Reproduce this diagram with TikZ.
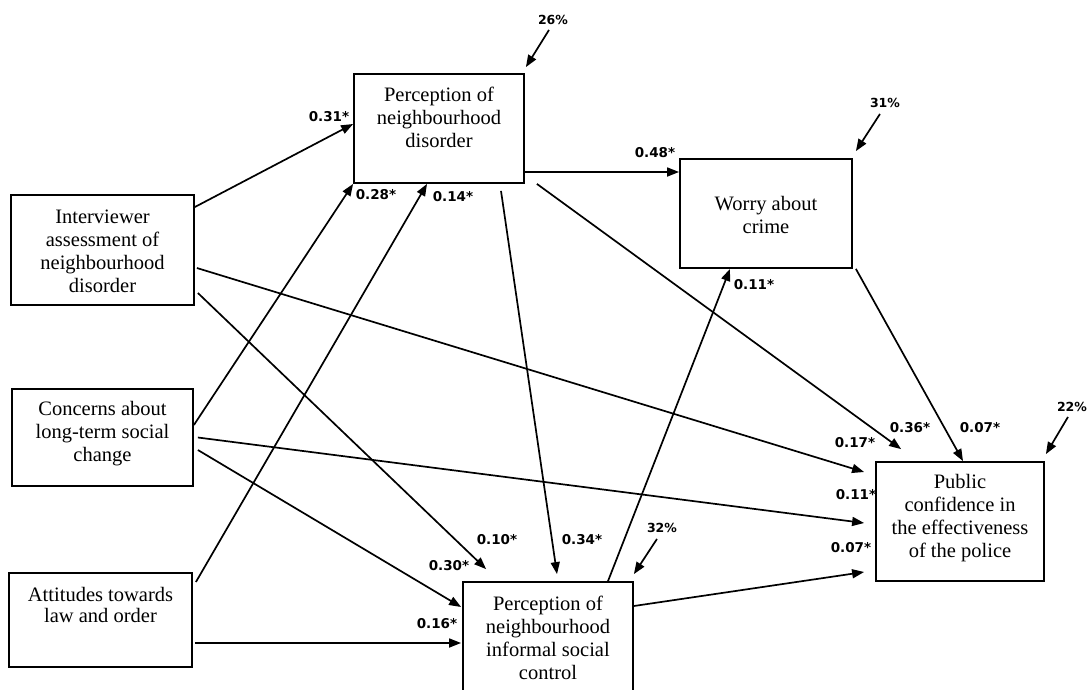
\documentclass[tikz,border=0pt]{standalone}
\usepackage{fontspec}
\setmainfont{Liberation Serif}
\newfontfamily\lblfont{DejaVu Sans}
\usetikzlibrary{arrows.meta}
\begin{document}
\begin{tikzpicture}[x=1pt,y=-1pt,
  box/.style={draw, line width=1.8pt, inner sep=0pt, rectangle},
  boxtext/.style={align=center, font=\fontsize{20.5}{23}\selectfont, inner sep=0pt},
  coef/.style={font=\lblfont\bfseries\fontsize{13.5}{15}\selectfont, inner sep=0pt},
  pct/.style={font=\lblfont\bfseries\fontsize{12.5}{14}\selectfont, inner sep=0pt},
  arr/.style={line width=1.7pt, -{Triangle[length=12pt,width=9pt]}}]
\useasboundingbox (0,0) rectangle (1088,689);
% boxes
\node[box, minimum width=170pt, minimum height=109pt] (pnd) at (439,128.5) {};
\node[box, minimum width=183pt, minimum height=110pt] (int) at (102.5,250) {};
\node[box, minimum width=181pt, minimum height=97pt] (con) at (102.5,437.5) {};
\node[box, minimum width=183pt, minimum height=94pt] (att) at (100.5,620) {};
\node[box, minimum width=172pt, minimum height=109pt] (wor) at (766,213.5) {};
\node[box, minimum width=168pt, minimum height=119pt] (pub) at (960,521.5) {};
\node[box, minimum width=170pt, minimum height=113pt] (inf) at (548,638.5) {};
% box texts
\node[boxtext] (pndt) at (439,117) {Perception of\\neighbourhood\\disorder};
\node[boxtext] (intt) at (102.5,251) {Interviewer\\assessment of\\neighbourhood\\disorder};
\node[boxtext] (cont) at (102.5,434) {Concerns about\\long-term social\\change};
\node[boxtext, font=\fontsize{20.5}{21}\selectfont] (attt) at (100.5,605) {Attitudes towards\\law and order};
\node[boxtext] (wort) at (766,215) {Worry about\\crime};
\node[boxtext] (pubt) at (960,518) {Public\\confidence in\\the effectiveness\\of the police};
\node[boxtext] (inft) at (548,637.5) {Perception of\\neighbourhood\\informal social\\control};
% connectors
\draw[arr] ([yshift=43pt]int.east) -- ([yshift=4.5pt]pnd.west);
\draw[arr] ([yshift=12.5pt]con.east) -- (pnd.south west);
\draw[arr] ([xshift=3pt,yshift=38pt]att.east) -- ([xshift=-12pt]pnd.south);
\draw[arr] ([yshift=-43.5pt]pnd.east) -- ([yshift=41.5pt]wor.west);
\draw[arr] ([xshift=12pt]pnd.south east) -- ([xshift=26pt,yshift=12pt]pub.north west);
\draw[arr] ([xshift=62pt,yshift=-7pt]pnd.south) -- ([xshift=9pt,yshift=7pt]inf.north);
\draw[arr] ([xshift=3pt,yshift=-43pt]int.east) -- ([xshift=24pt,yshift=12pt]inf.north west);
\draw[arr] ([xshift=2pt,yshift=-18pt]int.east) -- ([xshift=-11pt,yshift=49.5pt]pub.west);
\draw[arr] ([xshift=4pt]con.east) -- ([xshift=-11pt,yshift=-1.5pt]pub.west);
\draw[arr] ([xshift=4pt,yshift=-12.5pt]con.east) -- ([xshift=-1pt,yshift=31.5pt]inf.west);
\draw[arr] ([xshift=2pt,yshift=-23pt]att.east) -- ([xshift=-1pt,yshift=-4.5pt]inf.west);
\draw[arr] ([xshift=60pt]inf.north) -- ([xshift=-36pt]wor.south);
\draw[arr] ([yshift=32.5pt]inf.east) -- ([xshift=-11pt,yshift=-50.5pt]pub.west);
\draw[arr] ([xshift=3pt]wor.south east) -- ([xshift=3pt]pub.north);
% coefficient labels
\node[coef] (c31) at (329,117) {0.31*};
\node[coef] (c28) at (376,195) {0.28*};
\node[coef] (c14) at (453,197) {0.14*};
\node[coef] (c48) at (655,153) {0.48*};
\node[coef] (c36) at (910,428) {0.36*};
\node[coef] (c07a) at (980,428) {0.07*};
\node[coef] (c17) at (855,443) {0.17*};
\node[coef] (c11a) at (856,495) {0.11*};
\node[coef] (c07b) at (851,548) {0.07*};
\node[coef] (c10) at (497,540) {0.10*};
\node[coef] (c34) at (582,540) {0.34*};
\node[coef] (c30) at (449,566) {0.30*};
\node[coef] (c16) at (437,624) {0.16*};
\node[coef] (c11b) at (754,285) {0.11*};
% percentages
\node[pct] (p26) at (553,20) {26\%};
\node[pct] (p31) at (885,103) {31\%};
\node[pct] (p22) at (1072,407) {22\%};
\node[pct] (p32) at (662,528) {32\%};
\draw[arr] ([xshift=-4pt,yshift=-5pt]p26.south) -- ([xshift=1pt,yshift=6pt]pnd.north east);
\draw[arr] ([xshift=-5pt,yshift=-6pt]p31.south) -- ([xshift=3pt,yshift=7pt]wor.north east);
\draw[arr] ([xshift=-4pt,yshift=-5pt]p22.south) -- ([xshift=1pt,yshift=7pt]pub.north east);
\draw[arr] ([xshift=-5pt,yshift=-6pt]p32.south) -- ([yshift=7pt]inf.north east);
\end{tikzpicture}
\end{document}
